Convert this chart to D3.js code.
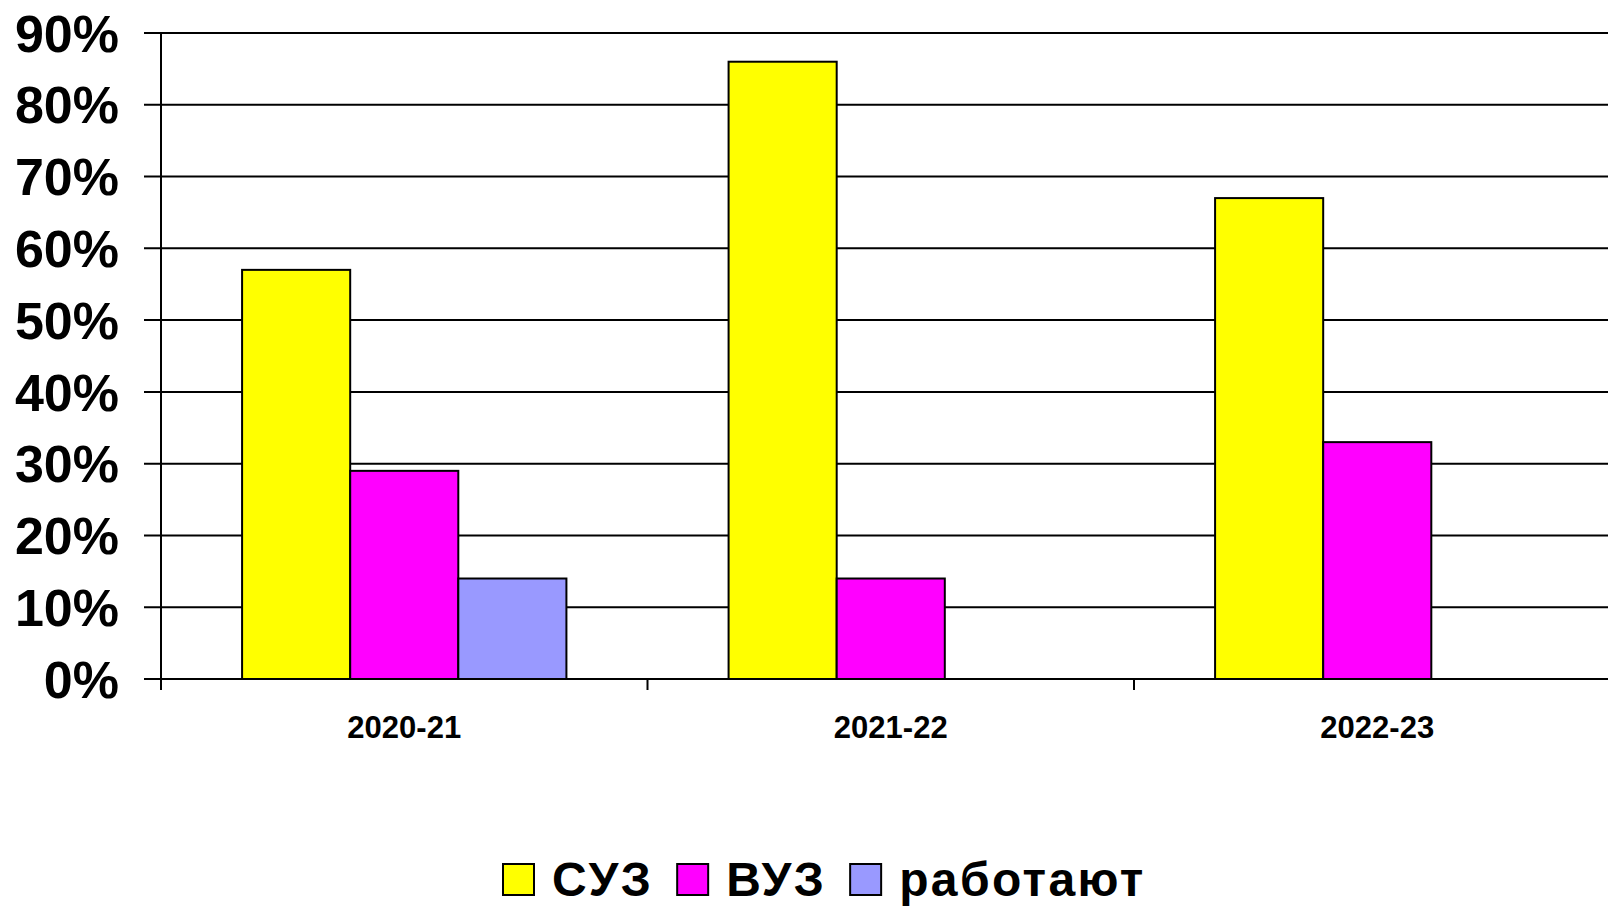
<!DOCTYPE html>
<html>
<head>
<meta charset="utf-8">
<script src="https://cdn.jsdelivr.net/npm/d3@7"></script>
<style>
  body { margin: 0; background: #fff; }
  svg { display: block; font-family: Arial, "Liberation Sans", sans-serif; }
  .axis text { font-weight: bold; fill: #000; }
</style>
</head>
<body>
<div id="chart"></div>
<script>
// chart data
const categories = ["2020-21", "2021-22", "2022-23"];
const seriesNames = ["СУЗ", "ВУЗ", "работают"];
const suzValues = [0.57, 0.86, 0.67];
const vuzValues = [0.29, 0.14, 0.33];
const rabotayutValues = [0.14, null, null];
const yTicks = [0, 0.1, 0.2, 0.3, 0.4, 0.5, 0.6, 0.7, 0.8, 0.9];
const seriesColors = ["#ffff00", "#ff00ff", "#9999ff"];

const width = 1608, height = 906;
let margin = { top: 33, left: 161, bottom: 227 };
let plotBottom = height - margin.bottom;
// the last category runs past the right edge, like in the original
let plotRight = margin.left + 3 * 486.5;

let svg = d3.select("#chart")
  .append("svg")
  .attr("width", width)
  .attr("height", height);

let xScale = d3.scaleBand()
  .domain(categories)
  .range([margin.left, plotRight])
  .paddingInner(0)
  .paddingOuter(0);

let xSeries = d3.scaleBand()
  .domain(seriesNames)
  .range([0, xScale.bandwidth()])
  .paddingInner(0)
  .paddingOuter(0.75);

let yScale = d3.scaleLinear()
  .domain([0, 0.9])
  .range([plotBottom, margin.top]);

// horizontal grid lines, they start left of the axis at the tick marks
svg.append("g")
  .selectAll("line")
  .data(yTicks)
  .enter().append("line")
    .attr("x1", margin.left - 17)
    .attr("x2", width)
    .attr("y1", d => yScale(d))
    .attr("y2", d => yScale(d))
    .attr("stroke", "#000")
    .attr("stroke-width", 2);

// Y axis with the big percent labels
let yAxis = svg.append("g")
  .attr("class", "axis")
  .attr("transform", "translate(" + margin.left + ",0)")
  .call(d3.axisLeft(yScale)
    .tickValues(yTicks)
    .tickFormat(d3.format(".0%"))
    .tickSize(17)
    .tickPadding(25));
yAxis.select(".domain").remove();
yAxis.selectAll(".tick line").remove();
yAxis.selectAll("text")
  .style("font-size", "52px")
  .attr("dy", "0.35em");

// vertical axis line, running a bit under the baseline
svg.append("line")
  .attr("x1", margin.left).attr("x2", margin.left)
  .attr("y1", yScale(0.9)).attr("y2", plotBottom + 11)
  .attr("stroke", "#000")
  .attr("stroke-width", 2);

// bars
let rows = categories.map((c, i) => ({
  category: c,
  values: [suzValues[i], vuzValues[i], rabotayutValues[i]]
}));

let group = svg.selectAll(".group")
  .data(rows)
  .enter().append("g")
    .attr("class", "group")
    .attr("transform", d => "translate(" + xScale(d.category) + ",0)");

group.selectAll("rect")
  .data(d => d.values.map((v, j) => ({ name: seriesNames[j], value: v, idx: j }))
    .filter(e => e.value != null))
  .enter().append("rect")
    .attr("x", d => xSeries(d.name))
    .attr("width", xSeries.bandwidth())
    .attr("y", d => yScale(d.value))
    .attr("height", d => plotBottom - yScale(d.value))
    .attr("fill", d => seriesColors[d.idx])
    .attr("stroke", "#000")
    .attr("stroke-width", 2);

// X axis: category labels under the bands, tick marks on the band edges
let xAxis = svg.append("g")
  .attr("class", "axis")
  .attr("transform", "translate(0," + plotBottom + ")")
  .call(d3.axisBottom(xScale).tickSize(0).tickPadding(37));
xAxis.select(".domain").remove();
xAxis.selectAll("text").style("font-size", "31px");

svg.append("line")
  .attr("x1", margin.left).attr("x2", width)
  .attr("y1", plotBottom).attr("y2", plotBottom)
  .attr("stroke", "#000")
  .attr("stroke-width", 2);

svg.append("g")
  .selectAll("line")
  .data(categories.slice(1))
  .enter().append("line")
    .attr("x1", d => xScale(d)).attr("x2", d => xScale(d))
    .attr("y1", plotBottom).attr("y2", plotBottom + 11)
    .attr("stroke", "#000")
    .attr("stroke-width", 2);

// legend along the bottom
let legend = svg.append("g")
  .attr("transform", "translate(503,864)");

let cursor = 0;
seriesNames.forEach((name, i) => {
  legend.append("rect")
    .attr("x", cursor)
    .attr("y", 0)
    .attr("width", 31)
    .attr("height", 31)
    .attr("fill", seriesColors[i])
    .attr("stroke", "#000")
    .attr("stroke-width", 2);
  let t = legend.append("text")
    .attr("x", cursor + 49)
    .attr("y", 32)
    .style("font-size", "48px")
    .style("font-weight", "bold")
    .style("letter-spacing", "2.4px")
    .text(name);
  cursor += 49 + t.node().getComputedTextLength() + 24;
});
</script>
</body>
</html>
